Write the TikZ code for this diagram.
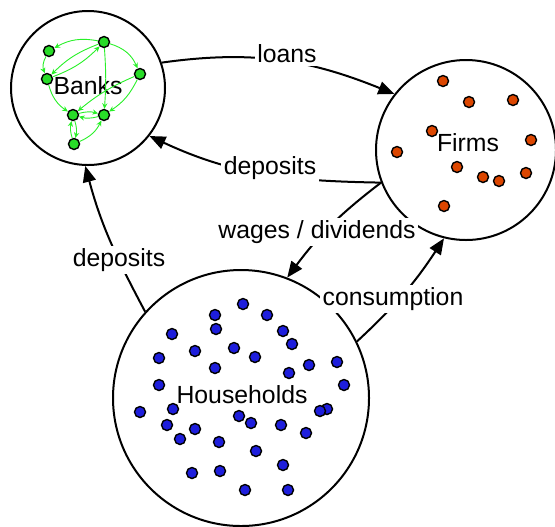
\documentclass[tikz,border=0pt]{standalone}
\usepackage{fontspec}
\setmainfont{Liberation Sans}
\usetikzlibrary{arrows.meta}
\definecolor{bankGreen}{RGB}{40,220,40}
\definecolor{linkGreen}{RGB}{40,240,40}
\definecolor{firmRed}{RGB}{220,70,0}
\definecolor{houseBlue}{RGB}{30,30,220}

\begin{document}
\begin{tikzpicture}[x=0.5pt, y=0.5pt,
    sector/.style={circle, draw=black, line width=1pt, inner sep=0pt},
    sectortext/.style={font=\fontsize{12.4}{14}\selectfont, inner sep=0pt},
    flowtag/.style={font=\fontsize{12.4}{14}\selectfont, fill=white, inner sep=1.2pt},
    agent/.style={circle, draw=black, line width=0.7pt, inner sep=0pt, minimum size=5.5pt},
    flow/.style={-{Triangle[length=8pt, width=6.5pt]}, line width=1pt},
    tie/.style={-{Stealth[length=2.8pt, width=2.6pt]}, linkGreen, line width=0.45pt}
  ]
  \useasboundingbox (0,0) rectangle (555,-526);

  % the three sectors
  \node[sector, minimum size=77pt]  (banks) at (88,-88) {};
  \node[sector, minimum size=90pt]  (firms) at (466,-150) {};
  \node[sector, minimum size=128pt] (households) at (241,-398) {};

  \node[sectortext] (bankstext) at (88,-86) {Banks};
  \node[sectortext] (firmstext) at (468,-143) {Firms};
  \node[sectortext] (householdstext) at (242,-395) {Households};

  % interbank network
  \foreach \x/\y [count=\i] in {49/51, 104/42, 140/74, 47/79, 73/115, 104/115, 74/144}
    \node[agent, fill=bankGreen] (b\i) at (\x,-\y) {};
  \draw[tie] (b2) to[bend right=20] (b1);
  \draw[tie] (b1) to[bend right=25] (b4);
  \draw[tie] (b2) to[bend right=12] (b4);
  \draw[tie] (b4) to[bend right=12] (b2);
  \draw[tie] (b2) to[bend left=25] (b3);
  \draw[tie] (b2) to[bend left=4] (b6);
  \draw[tie] (b3) to[bend right=8] (b5);
  \draw[tie] (b3) to[bend left=15] (b6);
  \draw[tie] (b4) to[bend right=20] (b5);
  \draw[tie] (b5) to[bend left=15] (b6);
  \draw[tie] (b6) to[bend left=15] (b5);
  \draw[tie] (b5) to[bend left=15] (b7);
  \draw[tie] (b7) to[bend left=15] (b5);
  \draw[tie] (b7) to[bend right=20] (b6);

  % firms
  \foreach \x/\y [count=\i] in {443/81, 469/102, 513/100, 432/131, 531/140, 397/152,
                                457/167, 483/177, 499/181, 526/173, 444/206}
    \node[agent, fill=firmRed] (f\i) at (\x,-\y) {};

  % households
  \foreach \x/\y [count=\i] in {243/304, 215/315, 267/315, 216/329, 172/334, 283/331,
                                292/344, 234/348, 195/351, 255/357, 159/358, 215/368,
                                309/365, 337/362, 289/373, 159/385, 344/385, 140/412,
                                173/409, 167/425, 239/416, 251/423, 281/425, 327/409,
                                320/411, 195/429, 306/433, 180/439, 219/442, 256/451,
                                283/465, 192/473, 220/471, 245/490, 288/490}
    \node[agent, fill=houseBlue] (h\i) at (\x,-\y) {};

  % money flows
  \draw[flow] (banks.19) to[out=8, in=158] (firms.142);
  \draw[flow] (firms.-159) to[out=179, in=-25] (banks.-38);
  \draw[flow] (households.138) to[out=118, in=-75] (banks.-92);
  \draw[flow] (firms.-159) to[bend right=8] (households.69);
  \draw[flow] (households.26) to[bend right=7] (firms.-104);

  \node[flowtag] (loanstag) at (287,-54) {loans};
  \node[flowtag] (firmdeposittag) at (270,-168) {deposits};
  \node[flowtag] (housedeposittag) at (119,-260) {deposits};
  \node[flowtag] (wagestag) at (317,-232) {wages / dividends};
  \node[flowtag] (consumptiontag) at (393,-299) {consumption};
\end{tikzpicture}
\end{document}
